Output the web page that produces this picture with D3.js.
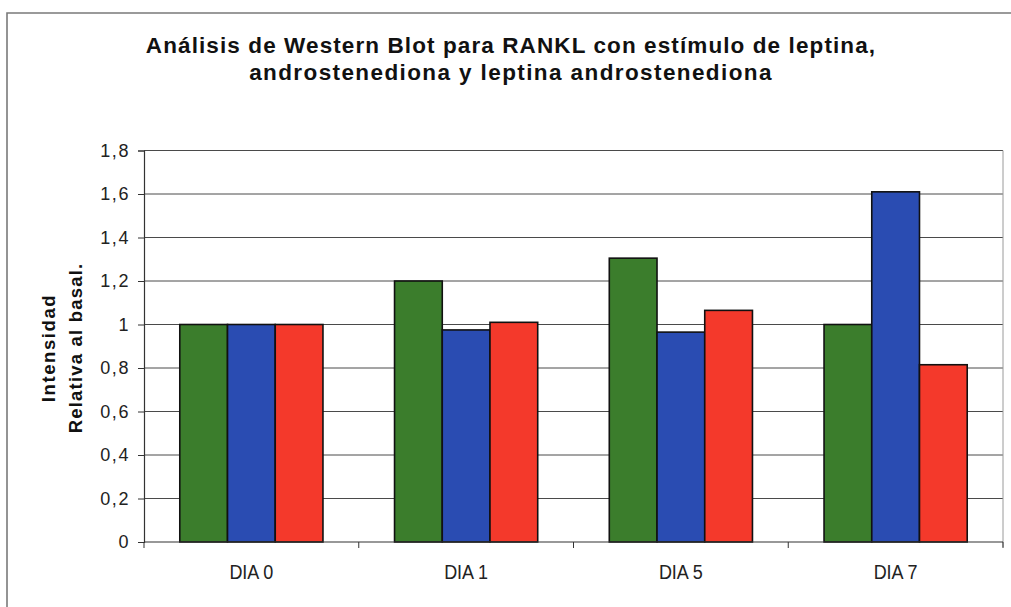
<!DOCTYPE html>
<html>
<head>
<meta charset="utf-8">
<script src="https://cdn.jsdelivr.net/npm/d3@7"></script>
<style>
  body { margin: 0; background: #fff; }
  svg { font-family: "Liberation Sans", Arial, sans-serif; }
</style>
</head>
<body>
<div id="chart"></div>
<script>
const days = ["DIA 0", "DIA 1", "DIA 5", "DIA 7"];
const series = ["leptina", "androstenediona", "leptina androstenediona"];
const leptina = [1.0, 1.2, 1.305, 1.0];
const androstenediona = [1.0, 0.975, 0.965, 1.61];
const leptinaAndro = [1.0, 1.01, 1.065, 0.815];
const yTicks = [0, 0.2, 0.4, 0.6, 0.8, 1, 1.2, 1.4, 1.6, 1.8];
const colors = ["#3b7d2c", "#2a4cb2", "#f4392b"];

const W = 1011, H = 607;
const margin = { top: 150.5, right: 8, bottom: 65, left: 144 },
      width = W - margin.left - margin.right,
      height = H - margin.top - margin.bottom;

const root = d3.select("#chart").append("svg")
    .attr("width", W).attr("height", H);

// outer chart frame (runs off the right and bottom edge)
root.append("path")
    .attr("d", `M7,${H + 5} V13 H${W + 5}`)
    .attr("fill", "none")
    .attr("stroke", "#7a7a7a")
    .attr("stroke-width", 1.6);

// title
const title = root.append("text")
    .attr("text-anchor", "middle")
    .attr("font-weight", "bold")
    .attr("font-size", 22.5)
    .attr("fill", "#111");
title.append("tspan").attr("x", 511).attr("y", 53)
    .attr("letter-spacing", 1.1)
    .text("Análisis de Western Blot para RANKL con estímulo de leptina,");
title.append("tspan").attr("x", 511).attr("y", 80)
    .attr("letter-spacing", 1.4)
    .text("androstenediona y leptina androstenediona");

const svg = root.append("g")
    .attr("transform", `translate(${margin.left},${margin.top})`);

const x0 = d3.scaleBand().domain(days).range([0, width]).paddingInner(0).paddingOuter(0);
// Excel style gap: 150% of bar width
const groupW = x0.bandwidth() * 2 / 3;
const x1 = d3.scaleBand().domain(series).range([0, groupW]);
const y = d3.scaleLinear().domain([0, 1.8]).range([height, 0]);

// grid lines
svg.append("g")
   .selectAll("line")
   .data(yTicks.slice(1))
   .join("line")
   .attr("x1", 0).attr("x2", width)
   .attr("y1", d => y(d)).attr("y2", d => y(d))
   .attr("stroke", "#4a4a4a")
   .attr("stroke-width", 1);

// bars
const rows = days.map((d, i) => ({
    day: d,
    vals: [leptina[i], androstenediona[i], leptinaAndro[i]]
}));

const groups = svg.append("g").selectAll("g")
   .data(rows)
   .join("g")
   .attr("transform", d => `translate(${x0(d.day) + (x0.bandwidth() - groupW) / 2},0)`);

groups.selectAll("rect")
   .data(d => d.vals.map((v, j) => ({ key: series[j], v: v, j: j })))
   .join("rect")
   .attr("x", d => x1(d.key))
   .attr("width", x1.bandwidth())
   .attr("y", d => y(d.v))
   .attr("height", d => height - y(d.v))
   .attr("fill", d => colors[d.j])
   .attr("stroke", "#111")
   .attr("stroke-width", 1.6);

// right plot edge
svg.append("line")
   .attr("x1", width).attr("x2", width)
   .attr("y1", 0).attr("y2", height + 5)
   .attr("stroke", "#9a9a9a").attr("stroke-width", 1);

// y axis
const yAxis = svg.append("g")
   .call(d3.axisLeft(y).tickValues(yTicks).tickSize(6).tickPadding(8)
        .tickFormat(d => String(d).replace(".", ",")));
yAxis.select(".domain").attr("stroke", "#333").attr("stroke-width", 1.2);
yAxis.selectAll(".tick line").attr("stroke", "#333");
yAxis.selectAll("text").attr("font-size", 18).attr("fill", "#222")
   .attr("letter-spacing", 1.6)
   .attr("font-family", "Liberation Sans, Arial, sans-serif");

// x axis with ticks at category boundaries
const xAxis = svg.append("g").attr("transform", `translate(0,${height})`);
xAxis.append("line").attr("x1", 0).attr("x2", width)
   .attr("stroke", "#333").attr("stroke-width", 1.2);
xAxis.selectAll(".xt")
   .data(days.map(d => x0(d)).concat([width]))
   .join("line")
   .attr("class", "xt")
   .attr("x1", d => d).attr("x2", d => d)
   .attr("y1", 0).attr("y2", 6)
   .attr("stroke", "#333");
// labels are tall and narrow in the original
xAxis.selectAll("text")
   .data(days)
   .join("text")
   .attr("x", d => x0(d) + x0.bandwidth() / 2)
   .attr("y", 37)
   .attr("text-anchor", "middle")
   .attr("font-size", 20)
   .attr("textLength", 44)
   .attr("lengthAdjust", "spacingAndGlyphs")
   .attr("fill", "#222")
   .text(d => d);

// y axis title
const yt = root.append("text")
   .attr("transform", "translate(0,348) rotate(-90)")
   .attr("text-anchor", "middle")
   .attr("font-weight", "bold")
   .attr("font-size", 18.5)
   .attr("fill", "#111");
yt.append("tspan").attr("x", 0).attr("y", 55).attr("letter-spacing", 1.6)
   .text("Intensidad");
yt.append("tspan").attr("x", 0).attr("y", 82).attr("letter-spacing", 1.2)
   .text("Relativa al basal.");
</script>
</body>
</html>
